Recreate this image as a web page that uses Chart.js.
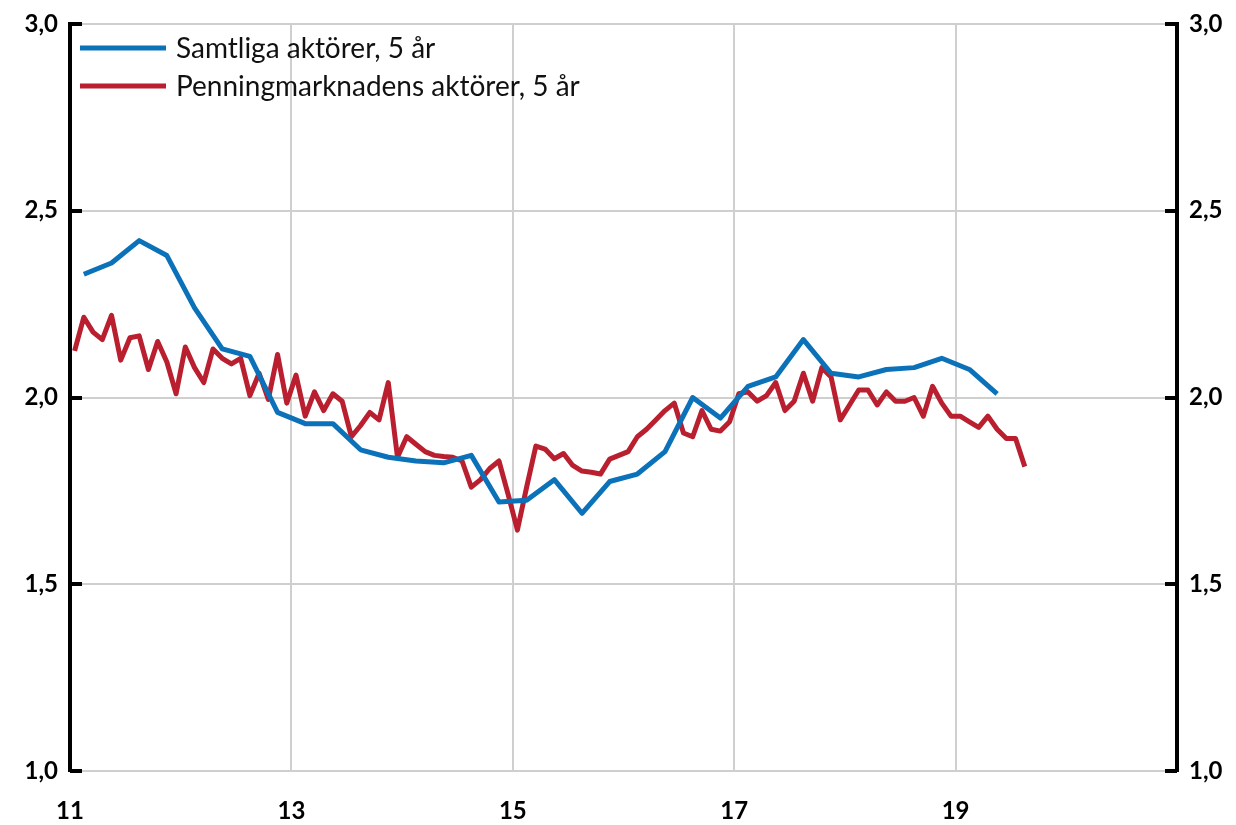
<!DOCTYPE html>
<html>
<head>
<meta charset="utf-8">
<script src="https://cdn.jsdelivr.net/npm/chart.js@4.4.1/dist/chart.umd.min.js"></script>
<style>
  html, body { margin: 0; padding: 0; background: #fff; }
  #wrap { width: 1236px; height: 825px; }
</style>
</head>
<body>
<div id="wrap"><canvas id="chart" width="1236" height="825"></canvas></div>
<script>
// first month / quarter is January 2011 -> year "11"
const startYear = 11;
const seriesNames = ['Samtliga aktörer, 5 år', 'Penningmarknadens aktörer, 5 år'];

// quarterly survey, Q1 2011 .. Q2 2019
const allActors = [
    2.33, 2.36, 2.42, 2.38, 2.24, 2.13, 2.11, 1.96, 1.93, 1.93,
    1.86, 1.84, 1.83, 1.825, 1.845, 1.72, 1.725, 1.78, 1.69, 1.775,
    1.795, 1.855, 2.0, 1.945, 2.03, 2.055, 2.155, 2.065, 2.055, 2.075,
    2.08, 2.105, 2.075, 2.01
];

// monthly survey, Jan 2011 .. Aug 2019
const moneyMarket = [
    2.125, 2.215, 2.175, 2.155, 2.22, 2.10, 2.16, 2.165, 2.075, 2.15,
    2.095, 2.01, 2.135, 2.08, 2.04, 2.13, 2.105, 2.09, 2.105, 2.005,
    2.065, 1.995, 2.115, 1.985, 2.06, 1.95, 2.015, 1.965, 2.01, 1.99,
    1.895, 1.925, 1.96, 1.94, 2.04, 1.84, 1.895, 1.875, 1.855, 1.845,
    1.842, 1.84, 1.83, 1.76, 1.78, 1.81, 1.83, 1.74, 1.645, 1.76,
    1.87, 1.862, 1.836, 1.85, 1.818, 1.803, 1.80, 1.795, 1.835, 1.845,
    1.855, 1.895, 1.915, 1.94, 1.965, 1.985, 1.905, 1.895, 1.965, 1.915,
    1.91, 1.935, 2.01, 2.015, 1.99, 2.005, 2.04, 1.965, 1.99, 2.065,
    1.99, 2.08, 2.055, 1.94, 1.98, 2.02, 2.02, 1.98, 2.015, 1.99,
    1.99, 2.0, 1.95, 2.03, 1.985, 1.95, 1.95, 1.935, 1.92, 1.95,
    1.915, 1.89, 1.89, 1.815
];

const xTickValues = [11, 13, 15, 17, 19];
const yTickValues = [1.0, 1.5, 2.0, 2.5, 3.0];

const blue = '#0b72b9';
const red = '#b91f2f';
const tickFont = { family: 'Lato, "Open Sans", sans-serif', size: 24, weight: 'bold', lineHeight: 1 };

const quarterPoints = allActors.map((v, i) => ({ x: startYear + (i * 3 + 1.5) / 12, y: v }));
const monthPoints = moneyMarket.map((v, i) => ({ x: startYear + (i + 0.5) / 12, y: v }));

// legend sits inside the plot, top left
const innerLegend = {
    id: 'innerLegend',
    afterDatasetsDraw(chart) {
        const c = chart.ctx;
        const rows = [48, 86];
        c.save();
        chart.data.datasets.forEach((ds, i) => {
            c.strokeStyle = ds.borderColor;
            c.lineWidth = 5;
            c.beginPath();
            c.moveTo(80, rows[i]);
            c.lineTo(166, rows[i]);
            c.stroke();
            c.fillStyle = '#111';
            c.font = '28px Lato, "Open Sans", sans-serif';
            c.textBaseline = 'middle';
            c.fillText(ds.label, 176, rows[i] + 1);
        });
        c.restore();
    }
};

// short tick marks pointing into the plot on both value axes
const innerTicks = {
    id: 'innerTicks',
    afterDraw(chart) {
        const c = chart.ctx;
        const a = chart.chartArea;
        const y = chart.scales.y;
        c.save();
        c.strokeStyle = '#000';
        c.lineWidth = 4;
        yTickValues.forEach((v) => {
            const py = Math.round(y.getPixelForValue(v));
            c.beginPath();
            c.moveTo(a.left, py);
            c.lineTo(a.left + 12, py);
            c.moveTo(a.right - 12, py);
            c.lineTo(a.right, py);
            c.stroke();
        });
        c.restore();
    }
};

new Chart(document.getElementById('chart'), {
    type: 'line',
    data: {
        datasets: [
            { label: seriesNames[0], data: quarterPoints, borderColor: blue, backgroundColor: blue },
            { label: seriesNames[1], data: monthPoints, borderColor: red, backgroundColor: red }
        ]
    },
    options: {
        responsive: false,
        animation: false,
        layout: { padding: { top: 20, left: 0, right: 0, bottom: 0 } },
        elements: {
            point: { radius: 0 },
            line: { borderWidth: 5, tension: 0, borderJoinStyle: 'round', borderCapStyle: 'butt' }
        },
        plugins: { legend: { display: false }, tooltip: { enabled: false } },
        scales: {
            x: {
                type: 'linear',
                min: 11,
                max: 21,
                afterBuildTicks: (s) => { s.ticks = xTickValues.concat([21]).map((v) => ({ value: v })); },
                afterFit: (s) => { s.height = 54; },
                ticks: {
                    color: '#000',
                    font: tickFont,
                    padding: 28,
                    maxRotation: 0,
                    callback: (v) => (xTickValues.includes(v) ? String(v) : '')
                },
                grid: {
                    color: (ctx) => (ctx.tick && (ctx.tick.value === 11 || ctx.tick.value === 21) ? 'rgba(0,0,0,0)' : '#cfcfcf'),
                    lineWidth: 2,
                    drawTicks: false
                },
                border: { display: false }
            },
            y: {
                position: 'left',
                min: 1,
                max: 3,
                afterBuildTicks: (s) => { s.ticks = yTickValues.map((v) => ({ value: v })); },
                afterFit: (s) => { s.width = 70; },
                ticks: {
                    color: '#000',
                    font: tickFont,
                    padding: 12,
                    callback: (v) => v.toFixed(1).replace('.', ',')
                },
                grid: { color: '#cfcfcf', lineWidth: 2, drawTicks: false },
                border: { color: '#000', width: 4 }
            },
            y2: {
                position: 'right',
                min: 1,
                max: 3,
                afterBuildTicks: (s) => { s.ticks = yTickValues.map((v) => ({ value: v })); },
                afterFit: (s) => { s.width = 59; },
                ticks: {
                    color: '#000',
                    font: tickFont,
                    padding: 12,
                    callback: (v) => v.toFixed(1).replace('.', ',')
                },
                grid: { display: false, drawTicks: false },
                border: { color: '#000', width: 4 }
            }
        }
    },
    plugins: [innerLegend, innerTicks]
});
</script>
</body>
</html>
